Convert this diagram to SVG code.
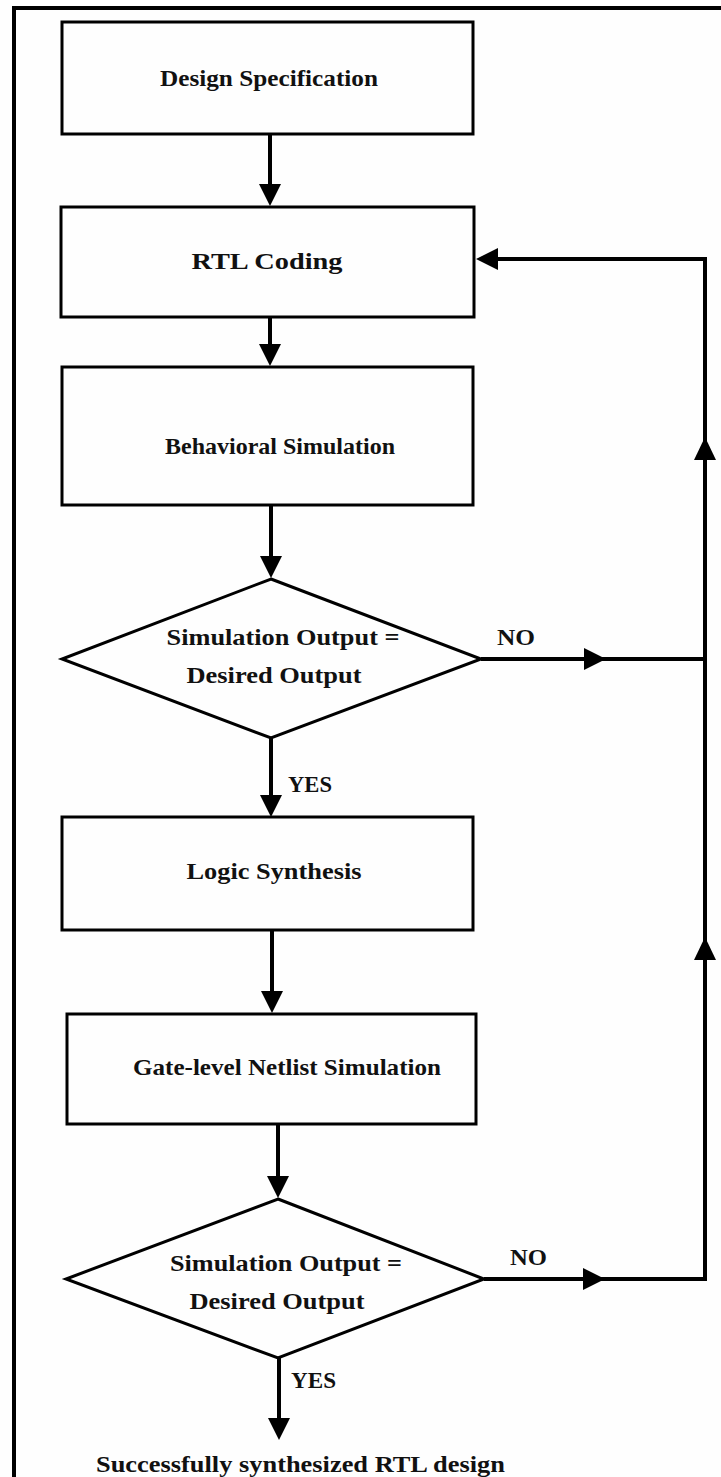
<svg xmlns="http://www.w3.org/2000/svg" width="721" height="1477" viewBox="0 0 721 1477">
  <style>
    .box { fill: #fefefe; stroke: #000; stroke-width: 3; }
    .wire { fill: none; stroke: #000; stroke-width: 4; }
    .head { fill: #000; }
    text { font-family: "Liberation Serif", "Times New Roman", serif; font-size: 23px; font-weight: bold; fill: #111; }
    .c { text-anchor: middle; }
  </style>
  <rect x="0" y="0" width="721" height="1477" fill="#fefefe"/>
  <!-- page frame -->
  <path d="M14 1477 V8 H721" fill="none" stroke="#000" stroke-width="4"/>

  <g id="design-spec">
    <rect class="box" x="62" y="22" width="411" height="112"/>
    <text class="c" x="269" y="86" textLength="218" lengthAdjust="spacingAndGlyphs">Design Specification</text>
  </g>
  <g id="rtl-coding">
    <rect class="box" x="61" y="207" width="413" height="110"/>
    <text class="c" x="267" y="269" textLength="151" lengthAdjust="spacingAndGlyphs">RTL Coding</text>
  </g>
  <g id="behavioral-sim">
    <rect class="box" x="62" y="367" width="411" height="138"/>
    <text class="c" x="280" y="454" textLength="230" lengthAdjust="spacingAndGlyphs">Behavioral Simulation</text>
  </g>
  <g id="check-1">
    <polygon class="box" points="271,579 481,659 271,738 62,659"/>
    <text class="c" x="283" y="645" textLength="233" lengthAdjust="spacingAndGlyphs">Simulation Output =</text>
    <text class="c" x="274" y="683" textLength="175" lengthAdjust="spacingAndGlyphs">Desired Output</text>
  </g>
  <g id="logic-synth">
    <rect class="box" x="62" y="817" width="411" height="113"/>
    <text class="c" x="274" y="879" textLength="175" lengthAdjust="spacingAndGlyphs">Logic Synthesis</text>
  </g>
  <g id="gate-sim">
    <rect class="box" x="67" y="1014" width="409" height="110"/>
    <text class="c" x="287" y="1075" textLength="308" lengthAdjust="spacingAndGlyphs">Gate-level Netlist Simulation</text>
  </g>
  <g id="check-2">
    <polygon class="box" points="278,1199 484,1279 278,1358 66,1279"/>
    <text class="c" x="286" y="1271" textLength="232" lengthAdjust="spacingAndGlyphs">Simulation Output =</text>
    <text class="c" x="277" y="1309" textLength="175" lengthAdjust="spacingAndGlyphs">Desired Output</text>
  </g>
  <g id="result">
    <text x="96" y="1472" textLength="409" lengthAdjust="spacingAndGlyphs">Successfully synthesized RTL design</text>
  </g>

  <g id="connectors">
    <!-- downward flow -->
    <path class="wire" d="M270 134 V186"/>
    <polygon class="head" points="259,184 281,184 270,206"/>
    <path class="wire" d="M270 317 V346"/>
    <polygon class="head" points="259,344 281,344 270,366"/>
    <path class="wire" d="M271 505 V558"/>
    <polygon class="head" points="260,556 282,556 271,578"/>
    <path class="wire" d="M271 738 V797"/>
    <polygon class="head" points="260,795 282,795 271,817"/>
    <path class="wire" d="M272 930 V993"/>
    <polygon class="head" points="261,991 283,991 272,1013"/>
    <path class="wire" d="M278 1124 V1178"/>
    <polygon class="head" points="267,1176 289,1176 278,1198"/>
    <path class="wire" d="M279 1358 V1420"/>
    <polygon class="head" points="268,1418 290,1418 279,1440"/>

    <!-- NO branches back to RTL coding -->
    <path class="wire" d="M481 659 H705"/>
    <polygon class="head" points="584,648 584,670 606,659"/>
    <path class="wire" d="M484 1279 H705 V259 H496"/>
    <polygon class="head" points="583,1268 583,1290 605,1279"/>
    <polygon class="head" points="694,960 716,960 705,937"/>
    <polygon class="head" points="694,460 716,460 705,437"/>
    <polygon class="head" points="498,248 498,270 476,259"/>

    <text x="497" y="645" textLength="38" lengthAdjust="spacingAndGlyphs">NO</text>
    <text x="288" y="792" textLength="44" lengthAdjust="spacingAndGlyphs">YES</text>
    <text x="510" y="1265" textLength="37" lengthAdjust="spacingAndGlyphs">NO</text>
    <text x="291" y="1388" textLength="45" lengthAdjust="spacingAndGlyphs">YES</text>
  </g>
</svg>
